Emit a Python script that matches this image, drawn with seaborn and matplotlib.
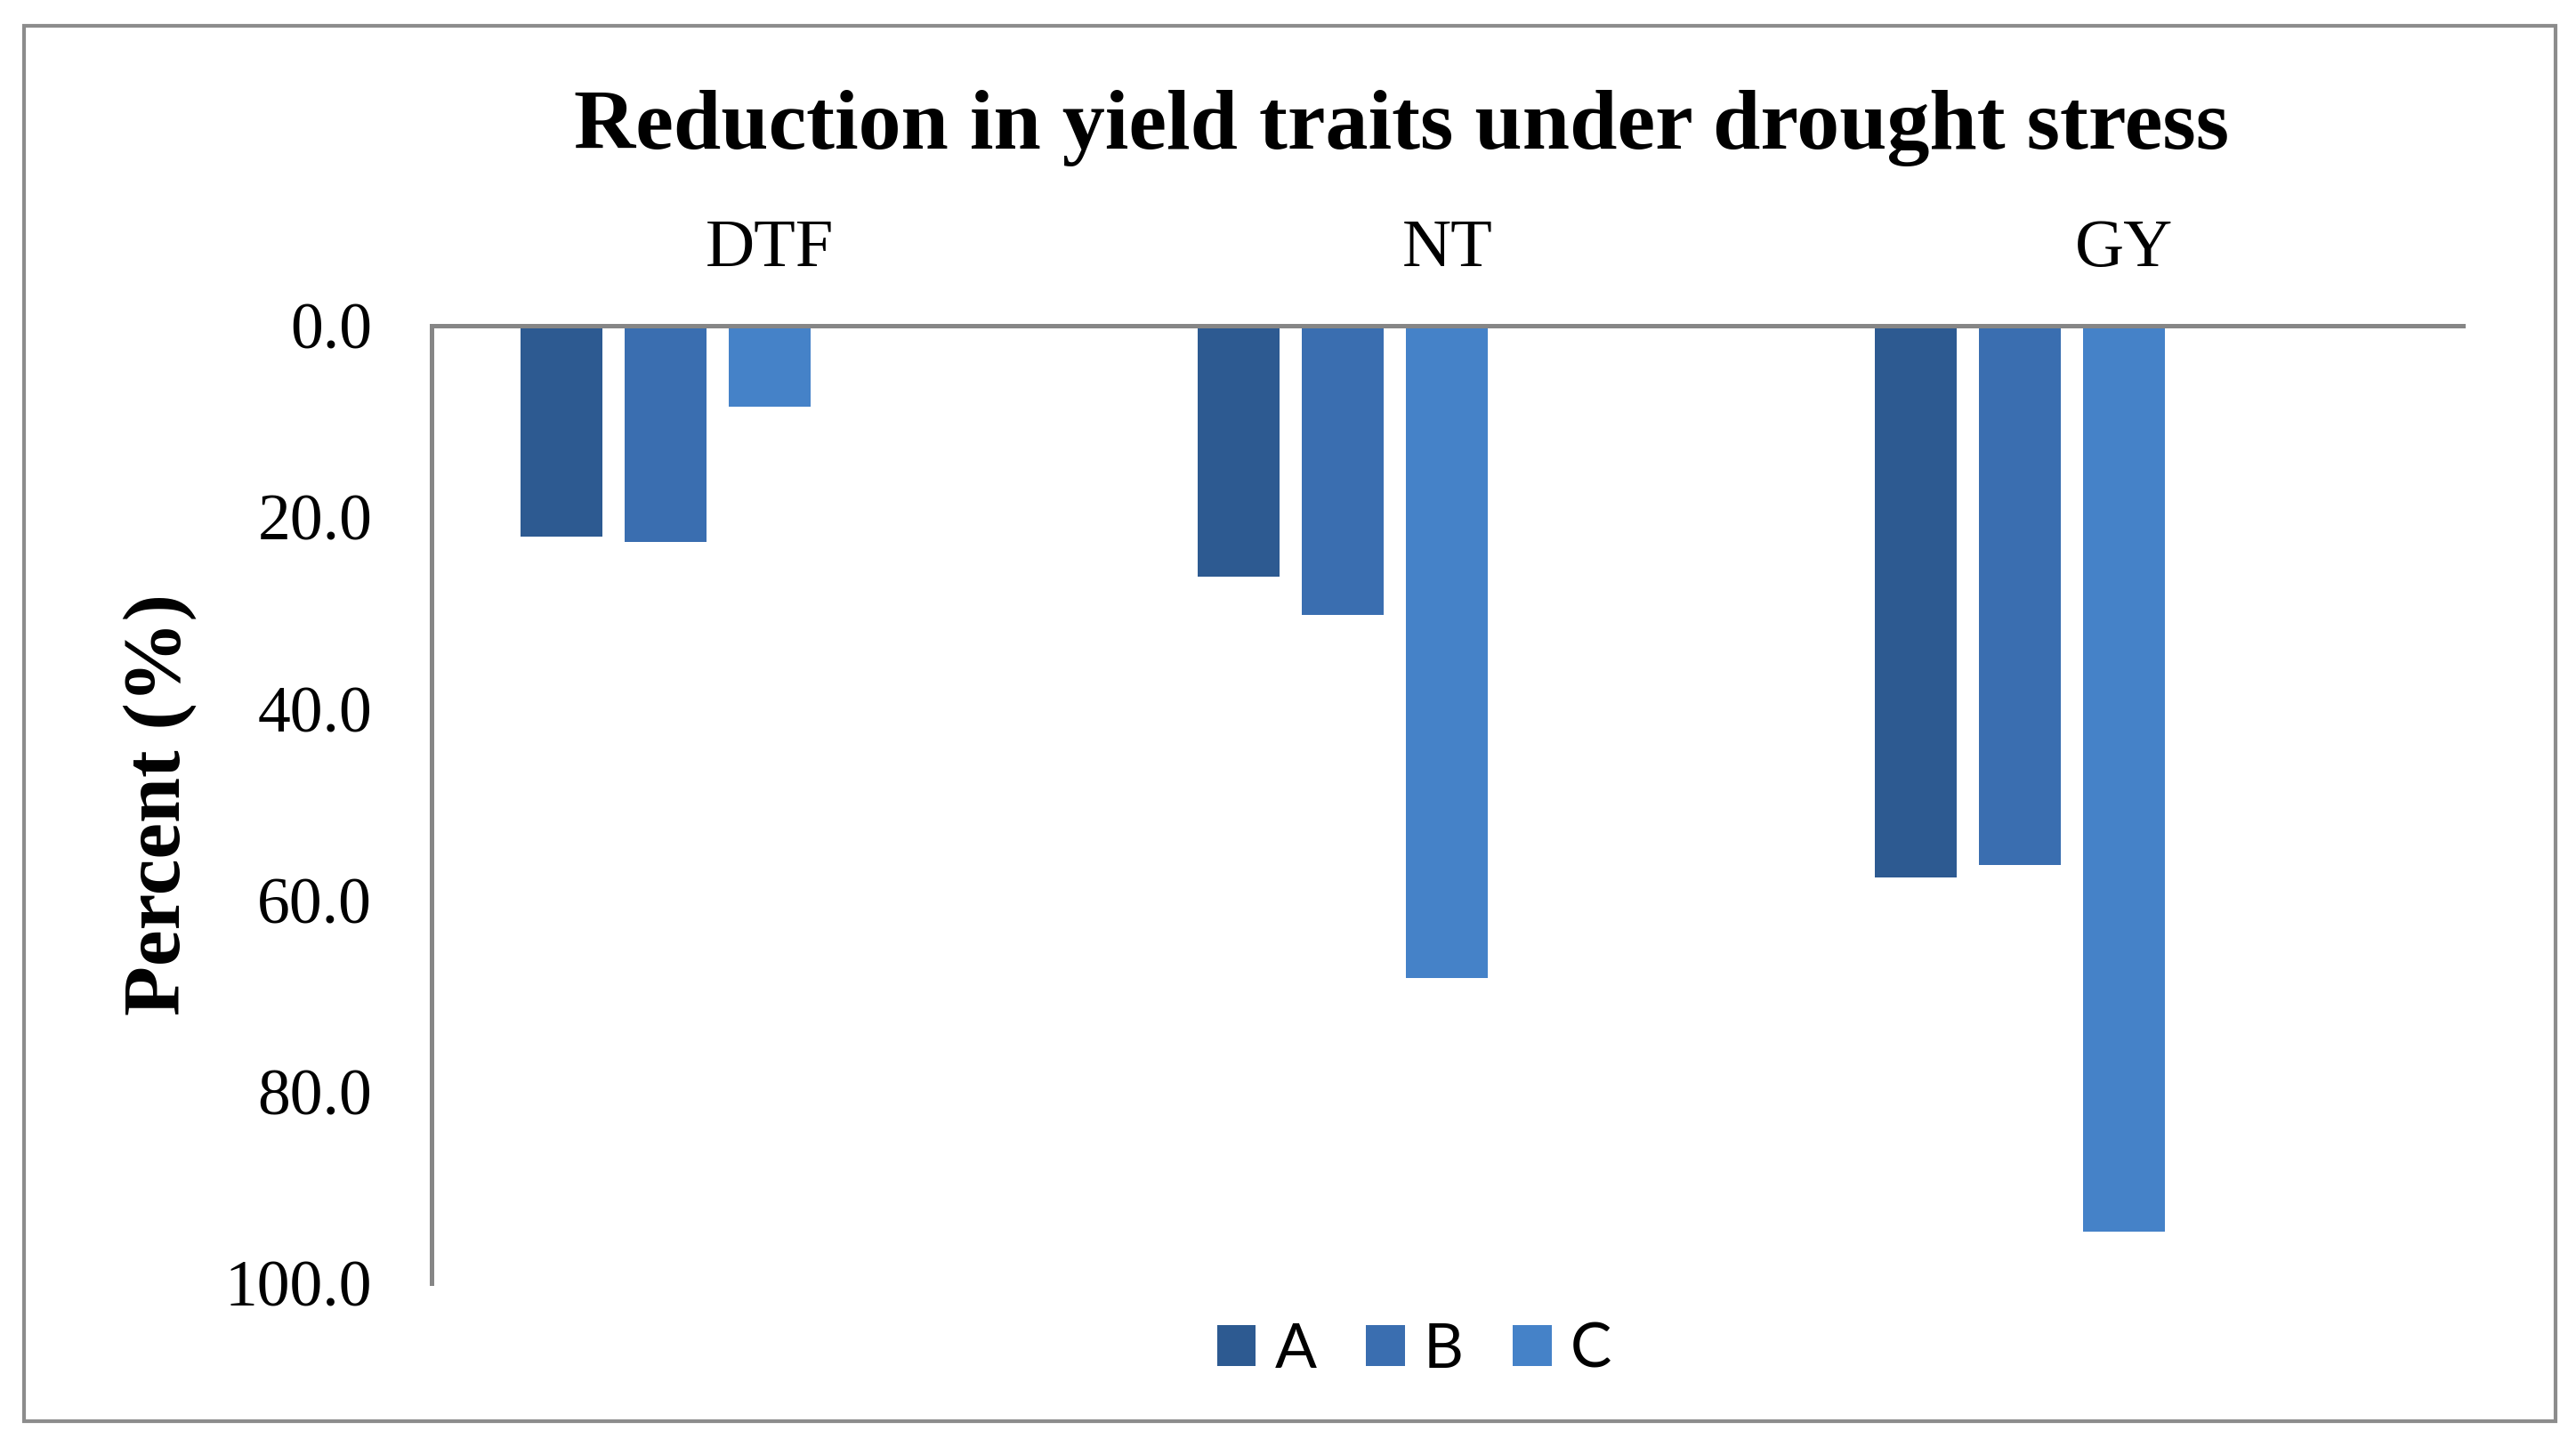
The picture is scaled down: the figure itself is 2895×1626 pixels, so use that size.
import numpy as np
import pandas as pd
import seaborn as sns
import matplotlib.pyplot as plt
from matplotlib.patches import Patch, Rectangle

sns.set_style('white')
plt.rcParams['font.family'] = ['Liberation Serif', 'DejaVu Serif']
plt.rcParams['text.color'] = 'black'
plt.rcParams['xtick.color'] = 'black'
plt.rcParams['ytick.color'] = 'black'

# values (percent reduction)
traits = ['DTF', 'NT', 'GY']
series = ['A', 'B', 'C']
val_a = [22.0, 26.2, 57.6]
val_b = [22.6, 30.2, 56.3]
val_c = [8.5, 68.1, 94.6]
# the original chart reserves room for two empty series next to C
slots = ['A', 'B', 'C', 'D', 'E']
colors = ['#2D5A91', '#3A6EB0', '#4582C8', '#4F8FD8', '#5A9BE0']
yticks = [0, 20, 40, 60, 80, 100]

df = pd.DataFrame({
    'trait': traits * 3,
    'series': ['A'] * 3 + ['B'] * 3 + ['C'] * 3,
    'value': val_a + val_b + val_c,
})

fig = plt.figure(figsize=(28.95, 16.26), dpi=100)
ax = fig.add_axes([0.1675, 0.1132, 0.7886, 0.6617])

sns.barplot(data=df, x='trait', y='value', hue='series', hue_order=slots,
            order=traits, palette=colors, width=0.769, gap=0.214,
            saturation=1, linewidth=0, errorbar=None, legend=False, ax=ax)

ax.set_ylim(100, 0)
ax.set_yticks(yticks)
ax.set_yticklabels([f'{v:.1f}' for v in yticks], fontsize=53)
ax.set_xlabel('')
ax.set_ylabel('')
ax.xaxis.tick_top()
ax.tick_params(axis='x', length=0, pad=37, labelsize=55, labeltop=True, labelbottom=False)
ax.tick_params(axis='y', length=0, pad=48)

for s in ['right', 'bottom']:
    ax.spines[s].set_visible(False)
for s in ['top', 'left']:
    ax.spines[s].set_color('#868686')
    ax.spines[s].set_linewidth(3.6)

fig.text(0.544, 0.897, 'Reduction in yield traits under drought stress',
         ha='center', va='baseline', fontsize=69, fontweight='bold')
fig.text(0.062, 0.444, 'Percent (%)', rotation=90, ha='center', va='center',
         fontsize=66, fontweight='bold')

handles = [Patch(facecolor=c, edgecolor='none') for c in colors[:3]]
fig.legend(handles, series, loc='center', bbox_to_anchor=(0.549, 0.067), ncol=3,
           frameon=False, prop={'family': 'Lato', 'size': 50},
           handlelength=0.63, handleheight=0.63, handletextpad=0.3,
           columnspacing=0.8)

# outer chart border
fig.patches.append(Rectangle((27 / 2895, 1 - 1597 / 1626), (2872 - 27) / 2895,
                             (1597 - 29) / 1626, transform=fig.transFigure,
                             fill=False, edgecolor='#8C8C8C', linewidth=3))

fig.savefig('out.png', dpi=100)
